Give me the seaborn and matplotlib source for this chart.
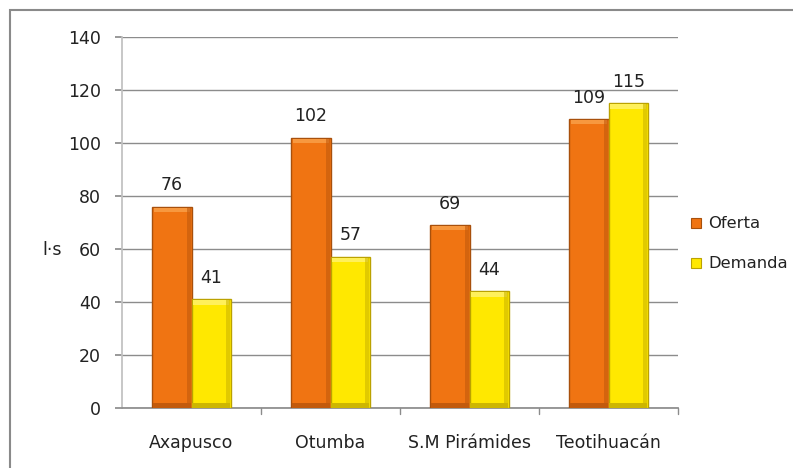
import matplotlib
matplotlib.use("Agg")
import matplotlib.pyplot as plt
from matplotlib.patches import Rectangle
import seaborn as sns
import pandas as pd

municipios = ["Axapusco", "Otumba", "S.M Pirámides", "Teotihuacán"]
oferta = [76, 102, 69, 109]
demanda = [41, 57, 44, 115]
series = ["Oferta", "Demanda"]
yticks = [0, 20, 40, 60, 80, 100, 120, 140]

df = pd.DataFrame({
    "municipio": municipios * 2,
    "serie": [series[0]] * len(municipios) + [series[1]] * len(municipios),
    "valor": oferta + demanda,
})

sns.set_theme(style="white")
plt.rcParams["font.family"] = ["DejaVu Sans"]
FS = 12.5

fig = plt.figure(figsize=(7.93, 4.68), dpi=100)
ax = fig.add_axes([122 / 793, 60 / 468, 556 / 793, 371 / 468])

colores = {"Oferta": "#F07412", "Demanda": "#FFE800"}
bordes = {"Oferta": "#A8500C", "Demanda": "#BBA200"}
claros = {"Oferta": "#F7983F", "Demanda": "#FFF05A"}
oscuros = {"Oferta": "#C25A0C", "Demanda": "#CDB600"}
sns.barplot(data=df, x="municipio", y="valor", hue="serie", palette=colores,
            saturation=1, width=0.57, gap=0, ax=ax, legend=False, zorder=3)

for cont, s in zip(ax.containers, series):
    for bar in cont:
        bar.set_edgecolor(bordes[s])
        bar.set_linewidth(1.0)
        x0, w, h = bar.get_x(), bar.get_width(), bar.get_height()
        # bevel: light top band, darker right and bottom bands
        ax.add_patch(Rectangle((x0 + w * 0.05, h - 2.0), w * 0.9, 1.6,
                               facecolor=claros[s], edgecolor="none", zorder=4))
        ax.add_patch(Rectangle((x0 + w * 0.88, 0.2), w * 0.1, h - 0.6,
                               facecolor=oscuros[s], edgecolor="none", zorder=4,
                               alpha=0.6))
        ax.add_patch(Rectangle((x0 + w * 0.02, 0.1), w * 0.96, 1.6,
                               facecolor=oscuros[s], edgecolor="none", zorder=4))
    ax.bar_label(cont, padding=9, fontsize=FS, color="#222222")

ax.set_ylim(0, 140)
ax.set_xlim(-0.5, 3.5)
ax.set_yticks(yticks)
ax.yaxis.grid(True, color="#8c8c8c", linewidth=1.0, zorder=0)
ax.set_axisbelow(True)
for side in ["top", "right"]:
    ax.spines[side].set_visible(False)
ax.spines["left"].set_color("#c0c0c0")
ax.spines["bottom"].set_color("#8c8c8c")
ax.tick_params(axis="y", length=5.2, color="#8c8c8c", labelsize=FS, pad=10,
               left=True, labelcolor="#222222")
ax.tick_params(axis="x", length=0, labelsize=FS, pad=19, labelcolor="#222222")
ax.set_xticks(range(len(municipios)))
ax.set_xticklabels(municipios)
for b in [0.5, 1.5, 2.5, 3.5]:
    ax.plot([b, b], [0, -0.016], transform=ax.get_xaxis_transform(),
            color="#8c8c8c", linewidth=1, clip_on=False)
ax.set_xlabel("")
ax.set_ylabel("l·s", rotation=0, fontsize=FS, va="center", ha="center",
              color="#222222")
ax.yaxis.set_label_coords(-70 / 556, (408 - 250) / 371)

# legend entries
for i, s in enumerate(series):
    yy = (468 - 223 - 40 * i) / 468
    fig.patches.append(Rectangle((691 / 793, yy - 5 / 468), 10 / 793, 10 / 468,
                                 transform=fig.transFigure, facecolor=colores[s],
                                 edgecolor=bordes[s], linewidth=0.8))
    fig.text(708 / 793, yy, s, fontsize=11.8, va="center", ha="left", color="#222222")

# outer chart border
fig.patches.append(Rectangle((10 / 793, -0.05), 1.2, 1.05 - 10 / 468,
                             transform=fig.transFigure, fill=False,
                             edgecolor="#8a8a8a", linewidth=1.5))

fig.savefig("out.png", dpi=100)
